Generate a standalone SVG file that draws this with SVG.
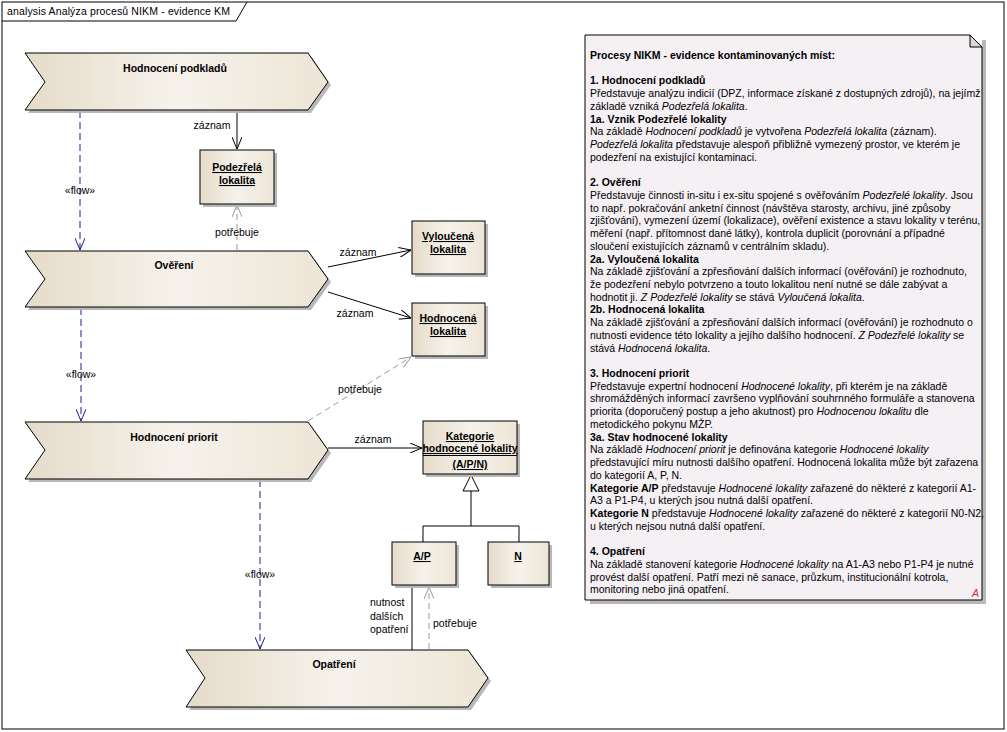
<svg xmlns="http://www.w3.org/2000/svg" width="1007" height="732" viewBox="0 0 1007 732">
<style>
text{font-family:"Liberation Sans",Arial,sans-serif;font-size:10.5px;fill:#000}
.lbl{text-anchor:middle;font-weight:bold}
.nm{text-anchor:middle;font-weight:bold;text-decoration:underline}
.cl{text-anchor:middle}
.sh{fill:#b8b8b8;stroke:none}
.act{fill:url(#g);stroke:#000;stroke-width:1}
.box{fill:url(#g);stroke:#000;stroke-width:1}
.solid{stroke:#000;stroke-width:1;fill:none}
.flow{stroke:#1c1f96;stroke-width:1;fill:none;stroke-dasharray:7,4}
.need{stroke:#9a9a9a;stroke-width:1;fill:none;stroke-dasharray:6,4}
.i{font-style:italic}
.b{font-weight:bold}
</style>
<defs>
<linearGradient id="g" x1="0" y1="0" x2="1" y2="0">
<stop offset="0" stop-color="#e5dbc9"/>
<stop offset="0.5" stop-color="#f6f2eb"/>
<stop offset="1" stop-color="#ede5d6"/>
</linearGradient>
<marker id="aB" viewBox="0 0 12 10" refX="12" refY="5" markerWidth="12" markerHeight="10" markerUnits="userSpaceOnUse" orient="auto"><path d="M0,0 L12,5 L0,10" fill="none" stroke="#000"/></marker>
<marker id="aF" viewBox="0 0 12 10" refX="12" refY="5" markerWidth="12" markerHeight="10" markerUnits="userSpaceOnUse" orient="auto"><path d="M0,0 L12,5 L0,10" fill="none" stroke="#1c1f96"/></marker>
<marker id="aG" viewBox="0 0 12 10" refX="12" refY="5" markerWidth="12" markerHeight="10" markerUnits="userSpaceOnUse" orient="auto"><path d="M0,0 L12,5 L0,10" fill="none" stroke="#9a9a9a"/></marker>
</defs>
<rect x="0" y="0" width="1007" height="732" fill="#fff"/>
<g id="frame">
<rect x="2" y="2" width="1002" height="727" fill="none" stroke="#000"/>
<path d="M2,21 H236 L247,2" fill="none" stroke="#000"/>
<text x="7" y="15" textLength="223" font-size="10.8px">analysis Analýza procesů NIKM - evidence KM</text>
</g>
<g id="connectors">
<line class="flow" x1="80" y1="111" x2="80" y2="250" marker-end="url(#aF)"/>
<text class="cl" x="80" y="194">«flow»</text>
<line class="flow" x1="81" y1="308" x2="81" y2="421" marker-end="url(#aF)"/>
<text class="cl" x="81" y="378">«flow»</text>
<line class="flow" x1="260" y1="480" x2="260" y2="649" marker-end="url(#aF)"/>
<text class="cl" x="260" y="578">«flow»</text>
<line class="solid" x1="237" y1="111" x2="237" y2="149" marker-end="url(#aB)"/>
<text class="cl" x="212" y="129">záznam</text>
<line class="need" x1="237" y1="250" x2="237" y2="205" marker-end="url(#aG)"/>
<text class="cl" x="237" y="236">potřebuje</text>
<line class="solid" x1="328" y1="267" x2="411" y2="250" marker-end="url(#aB)"/>
<text class="cl" x="358" y="256">záznam</text>
<line class="solid" x1="328" y1="292" x2="411" y2="318" marker-end="url(#aB)"/>
<text class="cl" x="355" y="317">záznam</text>
<line class="need" x1="308" y1="421" x2="411" y2="357" marker-end="url(#aG)"/>
<text class="cl" x="360" y="393">potřebuje</text>
<line class="solid" x1="328" y1="448" x2="422" y2="448" marker-end="url(#aB)"/>
<text class="cl" x="373" y="443">záznam</text>
<polyline class="solid" points="423,542 423,526 519,526 519,542"/>
<line class="solid" x1="471" y1="526" x2="471" y2="491"/>
<polygon points="471,475 463,491 479,491" fill="#fff" stroke="#000"/>
<line class="solid" x1="412" y1="586" x2="412" y2="650"/>
<text x="370" y="606">nutnost</text>
<text x="370" y="620">dalších</text>
<text x="370" y="633">opatření</text>
<line class="need" x1="429" y1="649" x2="429" y2="587" marker-end="url(#aG)"/>
<text x="433" y="627">potřebuje</text>
</g>
<g id="n-hodnoceni-podkladu">
<polygon class="sh" points="28,56 311,56 331,85 311,113 28,113 48,85"/>
<polygon class="act" points="25,53 308,53 328,82 308,110 25,110 45,82"/>
<text class="lbl" x="175" y="72">Hodnocení podkladů</text>
</g>
<g id="n-overeni">
<polygon class="sh" points="28,254 311,254 331,282 311,310 28,310 48,282"/>
<polygon class="act" points="25,251 308,251 328,279 308,307 25,307 45,279"/>
<text class="lbl" x="174" y="269">Ověření</text>
</g>
<g id="n-hodnoceni-priorit">
<polygon class="sh" points="28,425 311,425 331,453 311,482 28,482 48,453"/>
<polygon class="act" points="25,422 308,422 328,450 308,479 25,479 45,450"/>
<text class="lbl" x="174" y="441">Hodnocení priorit</text>
</g>
<g id="n-opatreni">
<polygon class="sh" points="189,653 471,653 491,681 471,710 189,710 208,681"/>
<polygon class="act" points="186,650 468,650 488,678 468,707 186,707 205,678"/>
<text class="lbl" x="334" y="668">Opatření</text>
</g>
<g id="n-podezrela">
<rect class="sh" x="203" y="153" width="74" height="54"/>
<rect class="box" x="200" y="150" width="74" height="54"/>
<text class="nm" x="237" y="171">Podezřelá</text>
<text class="nm" x="237" y="184">lokalita</text>
</g>
<g id="n-vyloucena">
<rect class="sh" x="415" y="224" width="73" height="53"/>
<rect class="box" x="412" y="221" width="73" height="53"/>
<text class="nm" x="448" y="240">Vyloučená </text>
<text class="nm" x="448" y="253">lokalita</text>
</g>
<g id="n-hodnocena">
<rect class="sh" x="415" y="306" width="73" height="53"/>
<rect class="box" x="412" y="303" width="73" height="53"/>
<text class="nm" x="448" y="322">Hodnocená </text>
<text class="nm" x="448" y="335">lokalita</text>
</g>
<g id="n-kategorie">
<rect class="sh" x="426" y="424" width="94" height="53"/>
<rect class="box" x="423" y="421" width="94" height="53"/>
<line x1="423" y1="455.5" x2="517" y2="455.5" stroke="#000"/>
<text class="nm" x="470" y="440">Kategorie </text>
<text class="nm" x="470" y="452">hodnocené lokality</text>
<text class="nm" x="470" y="468">(A/P/N)</text>
</g>
<g id="n-ap">
<rect class="sh" x="395" y="545" width="64" height="43"/>
<rect class="box" x="392" y="542" width="64" height="43"/>
<text class="nm" x="422" y="560">A/P</text>
</g>
<g id="n-n">
<rect class="sh" x="491" y="545" width="61" height="43"/>
<rect class="box" x="488" y="542" width="61" height="43"/>
<text class="nm" x="518" y="560">N</text>
</g>
<g id="n-note">
<path d="M982,40 H986 V604 H590 V600 H982 Z" fill="#b8b8b8"/>
<path d="M585,35 H970 L982,47 V600 H585 Z" fill="#f4f0f4" stroke="#000"/>
<path d="M970,35 V47 H982 Z" fill="#d8d8d8" stroke="#000"/>
<text class="b" x="590" y="59">Procesy NIKM - evidence kontaminovaných míst:</text>
<text class="b" x="590" y="84.4">1. Hodnocení podkladů</text>
<text x="590" y="97.2">Představuje analýzu indicií (DPZ, informace získané z dostupných zdrojů), na jejímž</text>
<text x="590" y="109.9">základě vzniká <tspan class="i">Podezřelá lokalita</tspan>.</text>
<text class="b" x="590" y="122.6">1a. Vznik Podezřelé lokality</text>
<text x="590" y="135.3">Na základě <tspan class="i">Hodnocení podkladů</tspan> je vytvořena <tspan class="i">Podezřelá lokalita</tspan> (záznam).</text>
<text x="590" y="148"><tspan class="i">Podezřelá lokalita</tspan> představuje alespoň přibližně vymezený prostor, ve kterém je</text>
<text x="590" y="160.8">podezření na existující kontaminaci.</text>
<text class="b" x="590" y="186.2">2. Ověření</text>
<text x="590" y="198.9">Představuje činnosti in-situ i ex-situ spojené s ověřováním <tspan class="i">Podezřelé lokality</tspan>. Jsou</text>
<text x="590" y="211.6">to např. pokračování anketní činnost (návštěva starosty, archivu, jiné způsoby</text>
<text x="590" y="224.4">zjišťování), vymezení území (lokalizace), ověření existence a stavu lokality v terénu,</text>
<text x="590" y="237.1">měření (např. přítomnost dané látky), kontrola duplicit (porovnání a případné</text>
<text x="590" y="249.8">sloučení existujících záznamů v centrálním skladu).</text>
<text class="b" x="590" y="262.5">2a. Vyloučená lokalita</text>
<text x="590" y="275.2">Na základě zjišťování a zpřesňování dalších informací (ověřování) je rozhodnuto,</text>
<text x="590" y="288">že podezření nebylo potvrzeno a touto lokalitou není nutné se dále zabývat a</text>
<text x="590" y="300.7">hodnotit ji. <tspan class="i">Z Podezřelé lokality</tspan> se stává <tspan class="i">Vyloučená lokalita</tspan>.</text>
<text class="b" x="590" y="313.4">2b. Hodnocená lokalita</text>
<text x="590" y="326.1">Na základě zjišťování a zpřesňování dalších informací (ověřování) je rozhodnuto o</text>
<text x="590" y="338.8">nutnosti evidence této lokality a jejího dalšího hodnocení. <tspan class="i">Z Podezřelé lokality</tspan> se</text>
<text x="590" y="351.6">stává <tspan class="i">Hodnocená lokalita</tspan>.</text>
<text class="b" x="590" y="377">3. Hodnocení priorit</text>
<text x="590" y="389.7">Představuje expertní hodnocení <tspan class="i">Hodnocené lokality</tspan>, při kterém je na základě</text>
<text x="590" y="402.4">shromážděných informací završeno vyplňování souhrnného formuláře a stanovena</text>
<text x="590" y="415.2">priorita (doporučený postup a jeho akutnost) pro <tspan class="i">Hodnocenou lokalitu</tspan> dle</text>
<text x="590" y="427.9">metodického pokynu MŽP.</text>
<text class="b" x="590" y="440.6">3a. Stav hodnocené lokality</text>
<text x="590" y="453.3">Na základě <tspan class="i">Hodnocení priorit</tspan> je definována kategorie <tspan class="i">Hodnocené lokality</tspan></text>
<text x="590" y="466">představující míru nutnosti dalšího opatření. Hodnocená lokalita může být zařazena</text>
<text x="590" y="478.8">do kategorií A, P, N.</text>
<text x="590" y="491.5"><tspan class="b">Kategorie A/P</tspan> představuje <tspan class="i">Hodnocené lokality</tspan> zařazené do některé z kategorií A1-</text>
<text x="590" y="504.2">A3 a P1-P4, u kterých jsou nutná další opatření.</text>
<text x="590" y="516.9"><tspan class="b">Kategorie N</tspan> představuje <tspan class="i">Hodnocené lokality</tspan> zařazené do některé z kategorií N0-N2,</text>
<text x="590" y="529.6">u kterých nejsou nutná další opatření.</text>
<text class="b" x="590" y="555.1">4. Opatření</text>
<text x="590" y="567.8">Na základě stanovení kategorie <tspan class="i">Hodnocené lokality</tspan> na A1-A3 nebo P1-P4 je nutné</text>
<text x="590" y="580.5">provést další opatření. Patří mezi ně sanace, průzkum, institucionální kotrola,</text>
<text x="590" y="593.2">monitoring nebo jiná opatření.</text>
<text x="972" y="597" font-size="7px" font-style="italic" style="fill:#d03030">A</text>
</g>
</svg>
